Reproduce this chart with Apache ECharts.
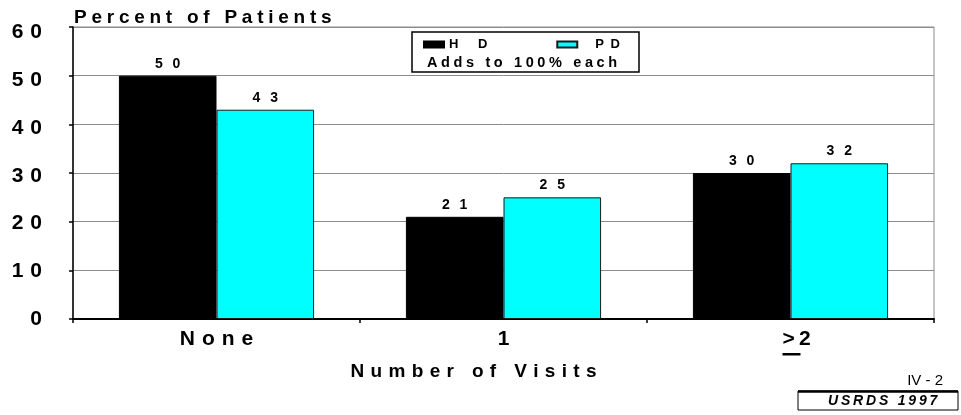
<!DOCTYPE html>
<html>
<head>
<meta charset="utf-8">
<script src="https://cdn.jsdelivr.net/npm/echarts@6/dist/echarts.min.js"></script>
<style>
  html, body { margin: 0; padding: 0; background: #fff; }
  #chart { width: 961px; height: 415px; }
</style>
</head>
<body>
<div id="chart"></div>
<script>
// Categories and values (percent of patients by number of visits)
const categories = ['None', '1', '>2'];
const hdValues = [50, 21, 30];
const pdValues = [43, 25, 32];
const seriesNames = ['HD', 'PD'];
const yMin = 0, yMax = 60, yStep = 10;
const yTicks = [0, 10, 20, 30, 40, 50, 60];

const FONT = 'Liberation Sans, Arial, sans-serif';

// Wide letter tracking, done with Unicode spacing characters
const track = (s, gap) => Array.from(s).join(gap);

const legendText = {
  HD: 'H\u2003\u2002D',
  PD: '\u2003P\u2002D'
};

// Tick labels drift slightly downward toward the top of the axis
const yLabelRich = {};
yTicks.forEach(v => {
  yLabelRich['t' + v] = {
    fontFamily: FONT, fontWeight: 'bold', fontSize: 21, color: '#000',
    padding: [Math.round(v / yMax * 11), 0, 0, 0]
  };
});

const chart = echarts.init(document.getElementById('chart'), null, { renderer: 'canvas' });

const option = {
  animation: false,
  backgroundColor: '#ffffff',
  title: {
    text: track('Percent of Patients', '\u2005'),
    left: 74,
    top: 8,
    padding: 0,
    textStyle: { fontFamily: FONT, fontWeight: 'bold', fontSize: 19, color: '#000' }
  },
  legend: {
    data: seriesNames,
    left: 423,
    top: 38,
    padding: 0,
    z: 20,
    itemWidth: 20,
    itemHeight: 6,
    itemGap: 69,
    icon: 'rect',
    selectedMode: false,
    formatter: name => legendText[name],
    textStyle: { fontFamily: FONT, fontWeight: 'bold', fontSize: 13, color: '#000' }
  },
  grid: {
    left: 73, right: 27, top: 27, bottom: 96,
    show: true, borderColor: '#8c8c8c', borderWidth: 1, backgroundColor: 'transparent'
  },
  xAxis: {
    type: 'category',
    data: categories,
    boundaryGap: true,
    axisLine: { lineStyle: { color: '#000', width: 2 } },
    axisTick: { show: true, length: 4, interval: 0, lineStyle: { color: '#000', width: 1.5 } },
    axisLabel: {
      margin: 10,
      interval: 0,
      fontFamily: FONT, fontWeight: 'bold', fontSize: 21, color: '#000',
      formatter: v => v === '>2' ? '{g|>\u2009' + '2}' : track(v, '\u2004'),
      rich: {
        g: { fontFamily: FONT, fontWeight: 'bold', fontSize: 21, color: '#000', padding: [0, 0, 0, 12] }
      }
    },
    name: track('Number of Visits', '\u2004'),
    nameLocation: 'middle',
    nameGap: 43,
    nameTextStyle: {
      fontFamily: FONT, fontWeight: 'bold', fontSize: 19, color: '#000',
      padding: [0, 60, 0, 0]
    }
  },
  yAxis: {
    type: 'value',
    min: yMin, max: yMax, interval: yStep,
    axisLine: { show: true, lineStyle: { color: '#000', width: 1.5 } },
    axisTick: { show: true, length: 4, lineStyle: { color: '#000', width: 1.5 } },
    splitLine: { show: true, lineStyle: { color: '#8c8c8c', width: 1 } },
    axisLabel: {
      margin: 31,
      fontFamily: FONT, fontWeight: 'bold', fontSize: 21, color: '#000',
      formatter: v => '{t' + v + '|' + track(String(v), '\u2004') + '}',
      rich: yLabelRich
    }
  },
  series: [
    {
      name: 'HD',
      type: 'bar',
      data: hdValues,
      barGap: '0%',
      barCategoryGap: '32%',
      itemStyle: { color: '#000000', borderColor: '#000000', borderWidth: 1 },
      label: {
        show: true, position: 'top', distance: 5,
        fontFamily: FONT, fontWeight: 'bold', fontSize: 14, color: '#000',
        formatter: p => track(String(p.value), '\u2002\u2009')
      }
    },
    {
      name: 'PD',
      type: 'bar',
      data: pdValues,
      barGap: '0%',
      barCategoryGap: '32%',
      itemStyle: { color: '#00ffff', borderColor: '#1a1a1a', borderWidth: 1 },
      label: {
        show: true, position: 'top', distance: 5,
        fontFamily: FONT, fontWeight: 'bold', fontSize: 14, color: '#000',
        formatter: p => track(String(p.value), '\u2002\u2009')
      }
    }
  ],
  graphic: [
    // legend frame and note
    {
      type: 'rect', z: 10, silent: true,
      shape: { x: 412, y: 32, width: 227, height: 40 },
      style: { fill: '#fff', stroke: '#000', lineWidth: 1.5 }
    },
    {
      type: 'text', z: 11, silent: true,
      left: 427, top: 55,
      style: {
        text: track('Adds to 100% each', '\u2005'),
        fontFamily: FONT, fontWeight: 'bold', fontSize: 14.5, fill: '#000'
      }
    },
    // page reference
    {
      type: 'text', silent: true,
      right: 18, top: 373,
      style: { text: 'IV - 2', fontFamily: FONT, fontSize: 15, fill: '#000' }
    },
    {
      type: 'rect', silent: true,
      shape: { x: 798, y: 391, width: 160, height: 19 },
      style: { fill: '#fff', stroke: '#000', lineWidth: 1 }
    },
    {
      type: 'line', silent: true,
      shape: { x1: 798, y1: 391.5, x2: 958, y2: 391.5 },
      style: { stroke: '#000', lineWidth: 2.5 }
    },
    {
      type: 'text', silent: true,
      left: 828, top: 394,
      style: {
        text: track('USRDS 1997', '\u2009'),
        fontFamily: FONT, fontWeight: 'bold', fontStyle: 'italic', fontSize: 14, fill: '#000'
      }
    }
  ]
};

chart.setOption(option);

// Underline the ">" of the last category label, so it reads as "at least 2"
const cx = chart.convertToPixel({ xAxisIndex: 0 }, categories.length - 1);
const axisY = chart.convertToPixel({ yAxisIndex: 0 }, yMin);
chart.setOption({
  graphic: option.graphic.concat([{
    type: 'rect', silent: true,
    shape: { x: cx - 8, y: axisY + 34, width: 18, height: 2.5 },
    style: { fill: '#000' }
  }])
});
</script>
</body>
</html>
